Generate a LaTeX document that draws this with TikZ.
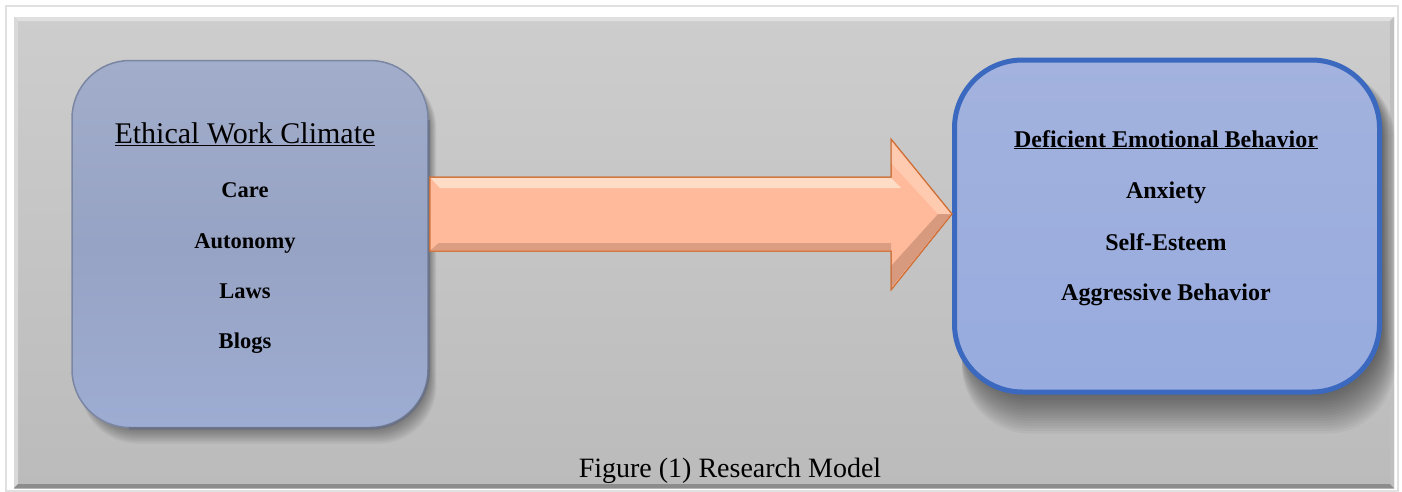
\documentclass[tikz,border=0pt]{standalone}
\usepackage{fontspec}
\setmainfont{Liberation Serif}
\usetikzlibrary{calc}
\definecolor{panelTop}{HTML}{CDCDCD}
\definecolor{panelBot}{HTML}{BBBBBB}
\definecolor{leftTop}{HTML}{A2ADCB}
\definecolor{leftMid}{HTML}{97A3C4}
\definecolor{leftBot}{HTML}{9DACD2}
\definecolor{leftEdge}{HTML}{7A86A2}
\definecolor{rightFill}{HTML}{97ABDE}
\definecolor{rightTop}{HTML}{A3B2DE}
\definecolor{rightEdge}{HTML}{3B69BF}
\definecolor{arrowFill}{HTML}{FFBA9B}
\definecolor{arrowEdge}{HTML}{CF7038}
\definecolor{arrowDark}{HTML}{9C6A55}
\definecolor{arrowLight}{HTML}{FFEBD8}
\tikzset{
  panelbox/.style={top color=panelTop, bottom color=panelBot, draw=none},
  leftbox/.style={rounded corners=58pt, draw=leftEdge, line width=1.5pt,
    top color=leftTop, bottom color=leftBot, middle color=leftMid},
  rightbox/.style={rounded corners=68pt, draw=rightEdge, line width=5pt,
    top color=rightTop, bottom color=rightFill},
  shadowlayer/.style={fill=black, opacity=0.035},
  titletext/.style={anchor=base, font=\fontsize{30}{36}\selectfont},
  itemL/.style={anchor=base, font=\fontsize{22.5}{27}\selectfont\bfseries},
  itemR/.style={anchor=base, font=\fontsize{24}{29}\selectfont\bfseries},
  captext/.style={anchor=base, font=\fontsize{28}{34}\selectfont},
  blockarrow/.style={fill=arrowFill, draw=arrowEdge, line width=1pt, line join=miter}
}
\begin{document}
\begin{tikzpicture}[x=1pt,y=-1pt]
  % page and frame
  \useasboundingbox (0,0) rectangle (1402,491);
  \fill[white] (0,0) rectangle (1402,491);
  \draw[black!12, line width=1.5pt] (6,6) rectangle (1398,491);
  \shade[panelbox] (14,17) rectangle (1394,488);
  % bevel of the panel
  \fill[white!88!black] (14,17) -- (1394,17) -- (1390,21) -- (18,21) -- cycle;
  \fill[white!85!black] (14,17) -- (18,21) -- (18,484) -- (14,488) -- cycle;
  \fill[black!45] (14,488) -- (18,484) -- (1390,484) -- (1394,488) -- cycle;
  \fill[black!25] (1394,17) -- (1390,21) -- (1390,484) -- (1394,488) -- cycle;

  % soft shadows under the two boxes
  \foreach \i in {1,...,12}
    \fill[shadowlayer, rounded corners=58pt] (80,70) rectangle (428+\i*0.7, 427+\i*1.4);
  \foreach \i in {1,...,16}
    \fill[shadowlayer, rounded corners=68pt] (962,70) rectangle (1382+\i*0.8, 392+\i*2.6);

  % boxes
  \node[leftbox, minimum width=356pt, minimum height=367pt, inner sep=0pt]
    (ewc) at (250,244) {};
  \node[rightbox, minimum width=425pt, minimum height=332pt, inner sep=0pt]
    (deb) at (1167,226) {};
  % darker rim along the lower right of the left box
  \draw[leftEdge!80!black, line width=2.5pt, opacity=0.6, rounded corners=58pt]
    (ewc.north east) ++(0,60) -- (ewc.south east) -- ++(-300,0);

  % left box text
  \node[titletext] (ewcT) at (245,143) {\underline{Ethical Work Climate}};
  \node[itemL] (care) at (245,197) {Care};
  \node[itemL] (auto) at (245,248) {Autonomy};
  \node[itemL] (laws) at (245,298) {Laws};
  \node[itemL] (blog) at (245,348) {Blogs};

  % right box text
  \node[itemR] (debT) at (1166,147) {\underline{Deficient Emotional Behavior}};
  \node[itemR] (anx) at (1166,198) {Anxiety};
  \node[itemR] (self) at (1166,250) {Self-Esteem};
  \node[itemR] (aggr) at (1166,300) {Aggressive Behavior};

  % block arrow from the left box to the right box
  \coordinate (tail) at ($(ewc.east)+(1,-30)$);
  \coordinate (tip) at ($(deb.west)+(0,-12)$);
  \path let \p1=(tail) in
    coordinate (s1) at (\x1, 177)
    coordinate (s2) at (891, 177)
    coordinate (h1) at (891, 139)
    coordinate (h2) at (891, 290)
    coordinate (s3) at (891, 251)
    coordinate (s4) at (\x1, 251);
  \draw[blockarrow] (s1) -- (s2) -- (h1) -- (tip) -- (h2) -- (s3) -- (s4) -- cycle;
  % bevel lights and shades on the arrow
  \fill[arrowLight, opacity=0.7] ($(s1)+(1,1)$) -- ($(s2)+(0,1)$) -- ($(s2)+(10,11)$) -- ($(s1)+(10,11)$) -- cycle;
  \fill[arrowDark, opacity=0.35] ($(s4)+(1,-1)$) -- ($(s3)+(0,-1)$) -- ($(s3)+(0,-8)$) -- ($(s4)+(9,-8)$) -- cycle;
  \fill[arrowDark, opacity=0.4] ($(h2)+(0,-2)$) -- ($(tip)+(-1,0)$) -- ($(tip)+(-14,0)$) -- ($(h2)+(0,-24)$) -- cycle;
  \fill[arrowLight, opacity=0.35] ($(h1)+(0,2)$) -- ($(tip)+(-1,0)$) -- ($(tip)+(-14,0)$) -- ($(h1)+(0,24)$) -- cycle;
  \draw[arrowEdge, line width=1pt, line join=miter] (s1) -- (s2) -- (h1) -- (tip) -- (h2) -- (s3) -- (s4) -- cycle;

  % caption
  \node[captext] (cap) at (730,477) {Figure (1) Research Model};
\end{tikzpicture}
\end{document}
